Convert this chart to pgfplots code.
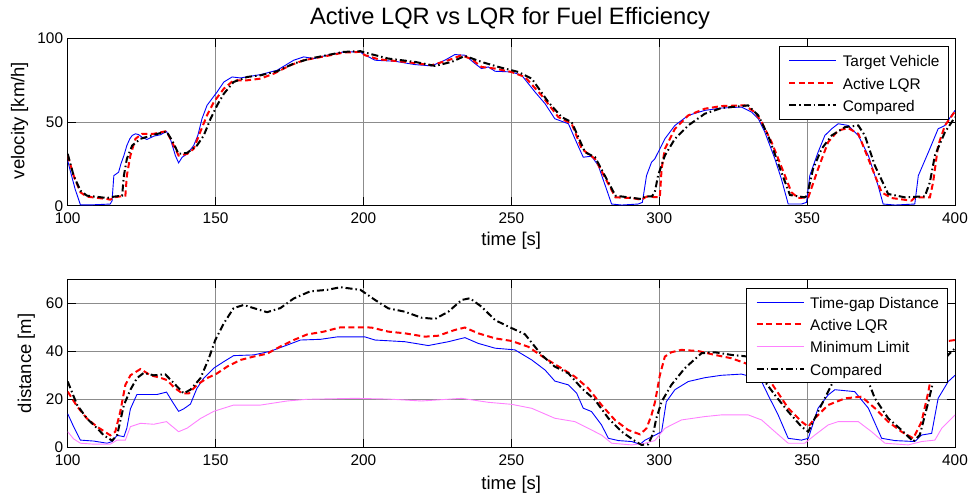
\documentclass[border=0pt]{standalone}
\usepackage{fontspec}
\setmainfont{Liberation Sans}
\usepackage{pgfplots}
\pgfplotsset{compat=1.18}
\definecolor{minpink}{RGB}{255,128,255}
\definecolor{tvblue}{RGB}{0,0,255}
\newcommand\ticksize{\fontsize{15.4}{18}\selectfont}
\newcommand\labsize{\fontsize{18.5}{22}\selectfont}
\newcommand\titsize{\fontsize{23.7}{28}\selectfont}

\pgfplotsset{
  mlab/.style={
    scale only axis, width=887.3pt, anchor=south west,
    xmin=100, xmax=400, xtick={100,150,...,400},
    grid=major, major grid style={line width=0.6pt, draw=black!45},
    axis line style={line width=0.9pt},
    tick align=inside, major tick length=8.5pt,
    xtick pos=both, ytick pos=both,
    tick style={black, line width=0.7pt},
    tick label style={font=\ticksize, inner sep=0pt},
    xticklabel style={yshift=-7.3pt},
    yticklabel style={xshift=-4.4pt},
    /pgf/number format/assume math mode=true,
    legend cell align=left,
    legend style={fill=white, font=\ticksize,
      inner xsep=9pt, inner ysep=4.3pt, row sep=2.7pt, column sep=5.7pt,
      nodes={inner sep=0pt, text height=16pt, text depth=3.5pt}},
    legend image code/.code={\draw[#1] (0pt,0pt) -- (47pt,0pt);},
  },
  tv/.style={color=tvblue, draw=tvblue, line width=0.9pt},
  alqr/.style={color=red, draw=red, line width=2pt, dash pattern=on 6pt off 3.5pt},
  cmp/.style={color=black, draw=black, line width=2pt, dash pattern=on 7pt off 3pt on 1.5pt off 3pt},
  mlim/.style={color=minpink, draw=minpink, line width=0.9pt},
}

\begin{document}
\begin{tikzpicture}[x=1pt,y=1pt]
\useasboundingbox (0,0) rectangle (971,496);

% velocity
\begin{axis}[mlab, at={(67.7pt,290.3pt)}, height=167.2pt,
  ymin=0, ymax=100, ytick={0,50,100},
  legend style={at={(0.9932,0.954)}, anchor=north east, draw=black, line width=0.9pt}]
\addplot[tv] coordinates {
 (100,27) (101,20) (102.5,10) (104.3,0.5) (108,0.5) (112,0.8) (114.4,1) (115,3) (115.6,18) (117.2,20)
 (118,25) (119,30) (120,36) (121,40) (121.8,42) (122.9,43) (124,42.5) (125.1,41) (126.8,39.6) (129.1,41.6)
 (131.3,42.4) (133.4,44.4) (134.7,40) (136.4,30) (137.5,25.6) (138.7,29) (140.4,31) (142.6,36) (144,42)
 (145.4,52) (147.1,60) (148.8,64) (150.5,68) (152.8,74) (155.6,77) (158.4,76.4) (165.2,78.4) (170.8,81)
 (176.4,87) (179.8,89) (183.2,88) (187.7,90) (193.3,92) (199,92) (199.6,91) (203.9,87) (210.6,86.4)
 (217.4,84.4) (223,83.6) (227.5,87) (230.9,90.4) (234.3,90) (237.7,85) (239.9,82) (242.2,83) (244.5,80.4)
 (250,80) (253.5,78) (258,68) (261.4,61) (264.7,52) (269.3,49) (271.5,40) (274.3,29) (277.1,29.6)
 (279.4,24) (283.9,1) (287.3,0.4) (292.9,1) (294.3,2) (295.7,18) (297.4,26) (298.5,28) (300.2,34)
 (301.9,40) (305.3,48) (309.8,54) (315.4,57) (321,58.4) (327.8,59) (331.2,56) (333.5,52) (335.7,44)
 (339.1,28) (341.3,16) (343.6,1) (348.1,1) (349.8,2) (350.9,18) (353.7,32) (356,42) (358.3,46) (360.5,49)
 (363.9,48) (367.3,42) (370.7,30) (374,12) (375.7,1) (379.7,0.4) (386.4,1) (387.6,18) (391,32) (394.3,46)
 (396.6,48) (398.8,54) (400,57)
};
\addlegendentry{Target Vehicle}
\addplot[alqr] coordinates {
 (100,30) (102,18) (104.3,8) (106.5,5.4) (113.3,4) (114.4,3.6) (115.6,5) (119.5,6) (120,18) (121.2,30)
 (122.9,40) (125.1,43) (129.1,43) (133.4,44.6) (135.3,38) (137.5,30) (140.4,31) (142.6,34) (144.8,44)
 (147.1,54) (149.4,62) (152.8,70) (156.1,75) (160.7,75) (165.2,76) (169.7,79) (175.3,84) (179.8,87)
 (187.7,89.6) (193.3,91.6) (199,92) (200.5,90) (205,87.6) (214,86) (223,84) (228.7,87) (233.2,90)
 (236.6,87.6) (239.9,83) (244.5,82) (250,80) (254.6,77) (260.2,66) (265.9,53) (270.4,49) (273.8,34)
 (276,31) (278.3,28) (285.2,5) (290.7,4.6) (294,3.6) (295.7,5.4) (300.2,5) (300.8,22) (301.9,34)
 (305.3,46) (309.8,54) (315.4,58) (321,59.6) (328.9,60) (332.3,56) (334.6,50) (338,38) (342.5,18)
 (344.7,8) (347,4.6) (350.4,5) (353.7,22) (357.1,38) (360.5,45) (363.9,46.4) (367.3,43) (370.7,28)
 (375.2,8) (378.5,4.6) (385.3,3) (386.4,5) (391.5,5) (392.6,14) (394.3,36) (396.6,48) (400,56.4)
};
\addlegendentry{Active LQR}
\addplot[cmp] coordinates {
 (100,31) (102,18) (104.3,9) (106.5,6) (113.3,4.6) (115.6,5.4) (118.4,6) (119,18) (120,28) (121.8,36)
 (124.6,40) (129.1,42.4) (133.4,44.4) (135.3,39) (137.5,31) (140.4,31.6) (143.7,36) (146,42) (148.3,52)
 (150.5,60) (152.8,67) (156.1,74) (160.7,77) (165.2,78) (170.8,80.4) (176.4,85) (182,88) (193.3,92)
 (199,92.4) (200.5,91.6) (208.4,88) (217.4,86) (224.2,83.6) (229.8,86) (234.3,89.6) (239.9,86)
 (245.6,83) (252.3,80) (256.9,76) (262.5,62) (267,53) (270.4,50) (274.9,32) (278.3,29) (285.2,6)
 (289.5,5) (294,4) (295.2,5.6) (297.5,5.6) (298.5,8) (299.6,18) (301.9,30) (305.3,40) (309.8,48)
 (315.4,55) (321,58.4) (330,60) (333.5,54) (336.8,42) (341.3,20) (344.2,6.4) (349.2,5) (350,6) (352,22)
 (354.9,34) (358.3,42) (362.8,47) (367.3,48) (369.5,42) (372.9,24) (377.4,7) (383.1,5) (389.8,5.6)
 (391.5,14) (393.2,30) (396.6,44) (400,53)
};
\addlegendentry{Compared}
\end{axis}

% distance
\begin{axis}[mlab, at={(67.7pt,48.7pt)}, height=168pt,
  ymin=0, ymax=70, ytick={0,20,40,60},
  legend style={at={(0.9925,0.950)}, anchor=north east, draw=black, line width=0.9pt}]
\addplot[tv] coordinates {
 (100,14) (102,8.6) (104.3,3) (108.8,2.6) (113.3,1.7) (115,2.4) (116.7,5) (119,4.4) (120,8) (121.2,16)
 (123.4,22) (126.8,22) (130.2,22) (133.4,23) (135.9,18) (137.5,15) (139.2,16) (141.5,18) (143.7,24.6)
 (146,28.8) (149.4,33) (152.8,35.7) (156.1,38.2) (162.9,38.5) (168.5,40) (174.2,42.6) (178.7,44.7)
 (185.5,45) (191.1,46) (200.5,46) (203.9,44.7) (214,44) (221.9,42.4) (228.7,44) (234.3,45.7)
 (238.8,43.3) (244.5,41.3) (251.2,40.6) (256.9,36.4) (261.4,32.2) (264.7,27.6) (269.3,26) (272.1,22.5)
 (274.3,16.3) (277.1,14.9) (280.5,9.3) (282.8,3.75) (286.2,2.8) (290.7,2.4) (293.5,1.25) (295.2,3)
 (298.5,5) (300.8,6.5) (302.4,19) (305.3,24) (309.8,27.4) (315.4,29) (321,30) (327.8,30.5) (331.2,29.4)
 (334.6,27.4) (336.8,21.8) (340.2,13.5) (343.6,3.75) (348.1,3) (350.4,3.75) (353.7,16.3) (357.1,21.8)
 (359.4,24) (366.1,23.2) (370.7,16.3) (375.2,3.75) (379.7,2.8) (386.4,2.4) (388.7,5.1) (392.1,5.8)
 (394.3,20.4) (397.7,27.4) (400,30)
};
\addlegendentry{Time-gap Distance}
\addplot[alqr] coordinates {
 (100,23.2) (103.2,17) (106.5,12) (109.9,8.6) (114.4,5) (116.1,6.5) (117.8,15) (119.5,26) (121.2,30)
 (124.6,32.6) (128,30) (131.3,29) (133.6,28) (135.9,25) (138.7,22.5) (141,22.5) (143.7,26) (147.1,28.8)
 (150.5,30.8) (153.9,33.6) (158.4,36.4) (162.9,37.8) (167.4,39) (171.9,42) (176.4,44.7) (180.9,47)
 (186.6,48.2) (192.2,50) (199,50) (202.7,49.9) (208.4,48.2) (214,47.5) (220.8,46.1) (225.3,46.5)
 (230.9,48.9) (234.3,49.9) (238.8,47.5) (244.5,45.4) (250.1,44.3) (255.7,41.9) (261.4,37.1) (267,32.9)
 (271.5,29.4) (276,24.6) (280.5,17.6) (285,11.4) (289.5,7.2) (293.5,5.4) (295.7,7.9) (297.4,13.5)
 (298.6,19) (300.2,30) (301.9,37.8) (304.1,39.6) (307.5,40.6) (313.2,40.1) (318.8,38.5) (324.4,37.1)
 (330.1,34.6) (334.6,32.9) (339.1,24.6) (343.6,16.3) (348.1,10.7) (350.4,8.6) (352.6,12.1) (357.1,17.6)
 (362.8,20.4) (368.4,21.1) (372.9,16.3) (377.4,10.7) (381.9,6.5) (385.9,3.75) (388.7,10.7) (391,23.2)
 (392.6,34.3) (394.3,41.9) (397.7,44.3) (400,44.7)
};
\addlegendentry{Active LQR}
\addplot[mlim] coordinates {
 (100,6.5) (102,3.5) (104.3,1.7) (108.8,1.3) (114.4,1.3) (116.7,3) (119.5,3) (121.2,8.6) (124.6,10)
 (129.1,9.6) (133.4,10.7) (137.5,6.5) (140.4,8) (144.9,12) (149.4,15) (156.1,17.6) (165.2,17.6)
 (174.2,19.3) (180.9,20) (197.1,20.4) (208.4,20.1) (219.6,19.3) (233.2,20.4) (242.2,18.75) (250.1,17.9)
 (256.9,16.25) (264.7,12.1) (271.5,10.7) (276,7.9) (280.5,5.1) (283.9,1.7) (290.7,1) (295.2,1.7)
 (298.5,2.8) (301.9,7.9) (307.5,11.4) (315.4,12.8) (321,13.5) (330.1,13.5) (334.6,11.4) (339.1,6.5)
 (343.6,1.7) (349.2,1.7) (352.6,5.1) (357.1,9.3) (360.5,10.7) (367.3,10.7) (371.8,6.5) (376.3,1.7)
 (384.2,1) (388.7,2.4) (393.2,3) (395.5,7.9) (400,13.5)
};
\addlegendentry{Minimum Limit}
\addplot[cmp] coordinates {
 (100,27.4) (103.2,17.6) (106.5,12) (109.9,8) (112.2,5) (115,2.8) (116.7,5) (119,17.6) (121.2,24)
 (123.4,28.8) (125.7,31) (129.1,30) (133,30.4) (135.9,26.7) (139.2,22.5) (141.5,24) (144.9,28.8)
 (147.7,37) (149.9,44.7) (152.8,51.7) (156.1,58) (159.5,59.3) (162.9,58) (167.4,56.3) (171.9,58)
 (176.4,62) (182,65) (187.7,65.6) (192.2,66.7) (199,65.6) (203.9,61.4) (208.4,57.9) (214,56.5)
 (219.6,54) (224.2,53.5) (228.7,56.5) (233.2,61.4) (236,62.1) (239.9,58.6) (244.5,53) (249,50.3)
 (254.6,47.1) (260.2,38.5) (264.7,33.6) (269.3,30.8) (273.8,24.6) (278.3,19.7) (282.8,12.1) (287.3,6.5)
 (291.8,2.6) (294,1) (296.3,1.25) (298,6) (299,12) (300.8,19) (304.1,26) (308.6,32.9) (314.3,39.2)
 (318.8,39.6) (324.4,38.5) (330.1,37.8) (333,33) (335.7,27.4) (339.1,21.8) (343.6,14.9) (348.1,8.6)
 (350.4,6.5) (353.7,14.9) (357.1,23.2) (359.9,30) (362,36) (364.5,38) (367,36) (369,31) (370.7,27.4)
 (372.9,20.4) (377.4,12.1) (381.9,7.2) (385.9,2.4) (388.1,5.1) (391,19) (392.6,27.4) (395,34)
 (397.7,38.5) (400,41.3)
};
\addlegendentry{Compared}
\end{axis}

\node[font=\titsize, anchor=base] at (510,471) {Active LQR vs LQR for Fuel Efficiency};
\node[font=\labsize, anchor=base] at (511.3,250.4) {time [s]};
\node[font=\labsize, anchor=base] at (511.3,6.7) {time [s]};
\node[font=\labsize, rotate=90, anchor=base] at (24.4,375.5) {velocity [km/h]};
\node[font=\labsize, rotate=90, anchor=base] at (31.1,132.7) {distance [m]};
\end{tikzpicture}
\end{document}
